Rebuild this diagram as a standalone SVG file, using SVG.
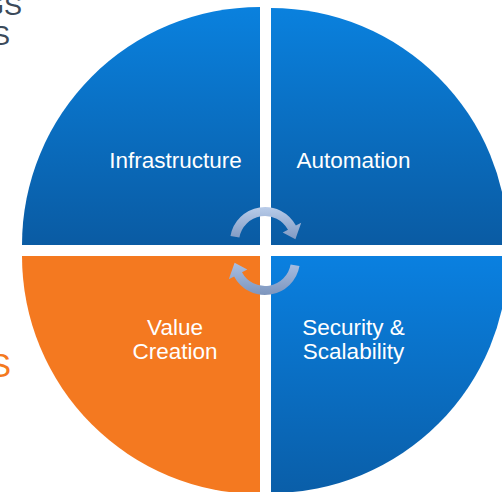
<svg xmlns="http://www.w3.org/2000/svg" width="502" height="492" viewBox="0 0 502 492">
  <defs>
    <linearGradient id="gTop" gradientUnits="userSpaceOnUse" x1="0" y1="7" x2="0" y2="245">
      <stop offset="0" stop-color="#0a81de"/>
      <stop offset="1" stop-color="#0a5ba3"/>
    </linearGradient>
    <linearGradient id="gBot" gradientUnits="userSpaceOnUse" x1="0" y1="256" x2="0" y2="494">
      <stop offset="0" stop-color="#0a80e0"/>
      <stop offset="1" stop-color="#0a5ea8"/>
    </linearGradient>
    <linearGradient id="gArrTop" x1="0" y1="0" x2="0" y2="1">
      <stop offset="0" stop-color="#b9cce9"/>
      <stop offset="1" stop-color="#7f99c3"/>
    </linearGradient>
    <linearGradient id="gArrBot" x1="0" y1="0" x2="0" y2="1">
      <stop offset="0" stop-color="#a9bfe3"/>
      <stop offset="1" stop-color="#7d95bd"/>
    </linearGradient>
  </defs>
  <style>
    .lbl { font-family: "Liberation Sans", Arial, sans-serif; font-size: 22.5px; fill: #ffffff; text-anchor: middle; }
    .side { font-family: "Liberation Sans", Arial, sans-serif; text-anchor: end; }
  </style>
  <rect width="502" height="492" fill="#ffffff"/>

  <g id="side-text">
    <text class="side" x="22" y="15" font-size="27" fill="#3b4a5a">GS</text>
    <text class="side" x="10" y="45" font-size="27" fill="#3b4a5a">S</text>
    <text class="side" x="11" y="377" font-size="33" fill="#f47920">S</text>
  </g>

  <g id="infrastructure">
    <path d="M260 245 L22 245 A238 238 0 0 1 260 7 Z" fill="url(#gTop)"/>
    <text class="lbl" x="175.5" y="168">Infrastructure</text>
  </g>
  <g id="automation">
    <path d="M271 245 L271 8 A237 237 0 0 1 508 245 Z" fill="url(#gTop)"/>
    <text class="lbl" x="353.5" y="168">Automation</text>
  </g>
  <g id="value-creation">
    <path d="M260 256 L260 494 A238 238 0 0 1 22 256 Z" fill="#f47920"/>
    <text class="lbl" x="175" y="335">Value</text>
    <text class="lbl" x="175" y="359">Creation</text>
  </g>
  <g id="security-scalability">
    <path d="M271 256 L508 256 A237 237 0 0 1 271 493 Z" fill="url(#gBot)"/>
    <text class="lbl" x="353.5" y="335">Security &amp;</text>
    <text class="lbl" x="353.5" y="359">Scalability</text>
  </g>

  <g id="connectors">
    <path d="M230.5 235.9 A35 35 0 0 1 295.9 225.6 L301.2 222.8 L295.4 239.3 L282.7 232.6 L288.0 229.8 A26 26 0 0 0 239.4 237.5 Z" fill="url(#gArrTop)"/>
    <path d="M299.5 266.1 A35 35 0 0 1 234.1 276.4 L228.8 279.2 L234.6 262.7 L247.3 269.4 L242.0 272.2 A26 26 0 0 0 290.6 264.5 Z" fill="url(#gArrBot)"/>
  </g>
</svg>
